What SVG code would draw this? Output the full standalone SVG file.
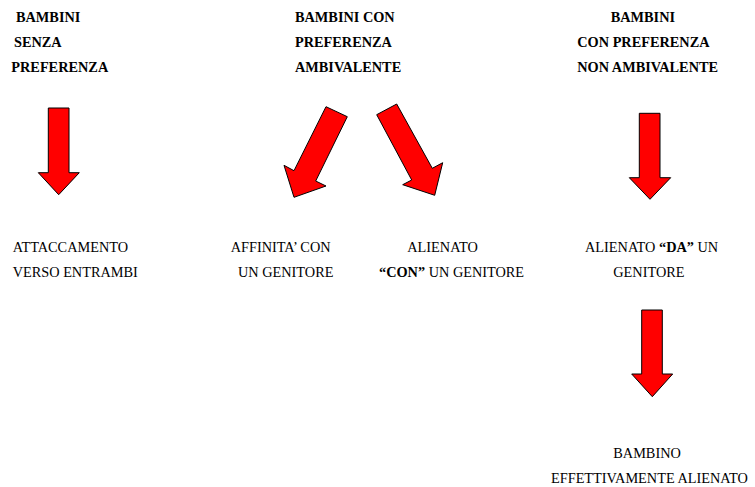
<svg xmlns="http://www.w3.org/2000/svg" width="755" height="487" viewBox="0 0 755 487">
<style>
text{font-family:"Liberation Serif","Times New Roman",serif;font-size:14.3px;fill:#000}
.b{font-weight:bold}
.arrow{fill:#ff0000;stroke:#000;stroke-width:1;stroke-linejoin:miter}
</style>
<rect width="755" height="487" fill="#fff"/>
<g id="n-senza">
<text class="b" x="16" y="21.7">BAMBINI</text>
<text class="b" x="14" y="46.7">SENZA</text>
<text class="b" x="11.3" y="71.7">PREFERENZA</text>
</g>
<g id="n-ambivalente">
<text class="b" x="295" y="21.7">BAMBINI CON</text>
<text class="b" x="295" y="46.7">PREFERENZA</text>
<text class="b" x="295" y="71.7">AMBIVALENTE</text>
</g>
<g id="n-nonambivalente">
<text class="b" x="610.7" y="21.7">BAMBINI</text>
<text class="b" x="577.3" y="46.7">CON PREFERENZA</text>
<text class="b" x="577.3" y="71.7">NON AMBIVALENTE</text>
</g>
<g id="n-attaccamento">
<text x="12.7" y="252">ATTACCAMENTO</text>
<text x="12.7" y="276.5">VERSO ENTRAMBI</text>
</g>
<g id="n-affinita">
<text x="230.7" y="252">AFFINITA’ CON</text>
<text x="238" y="276.5">UN GENITORE</text>
</g>
<g id="n-alienato-con">
<text x="407.3" y="252">ALIENATO</text>
<text x="379" y="276.5"><tspan class="b">“CON”</tspan> UN GENITORE</text>
</g>
<g id="n-alienato-da">
<text x="585" y="252">ALIENATO <tspan class="b">“DA”</tspan> UN</text>
<text x="613.3" y="276.5">GENITORE</text>
</g>
<g id="n-effettivamente">
<text x="613.3" y="457.7">BAMBINO</text>
<text x="551" y="482.5">EFFETTIVAMENTE ALIENATO</text>
</g>
<g id="connectors">
<polygon class="arrow" points="48.3,108 69,108 69,172.7 79.3,172.7 58.7,194.7 38.3,172.7 48.3,172.7"/>
<polygon class="arrow" points="326,106.7 347.3,116.7 315.7,181 326,186 294,197.3 284,165.3 294,170.7"/>
<polygon class="arrow" points="376.7,114.7 396.7,104 432.3,168.3 442.7,162.7 434.7,195.3 402.7,184.7 411.7,180"/>
<polygon class="arrow" points="639.3,113.3 660,113.3 660,177.7 670.7,177.7 650,199.3 629.3,177.7 639.3,177.7"/>
<polygon class="arrow" points="641.7,310 662.3,310 662.3,374 672.7,374 652.3,396.7 631.7,374 641.7,374"/>
</g>
</svg>
